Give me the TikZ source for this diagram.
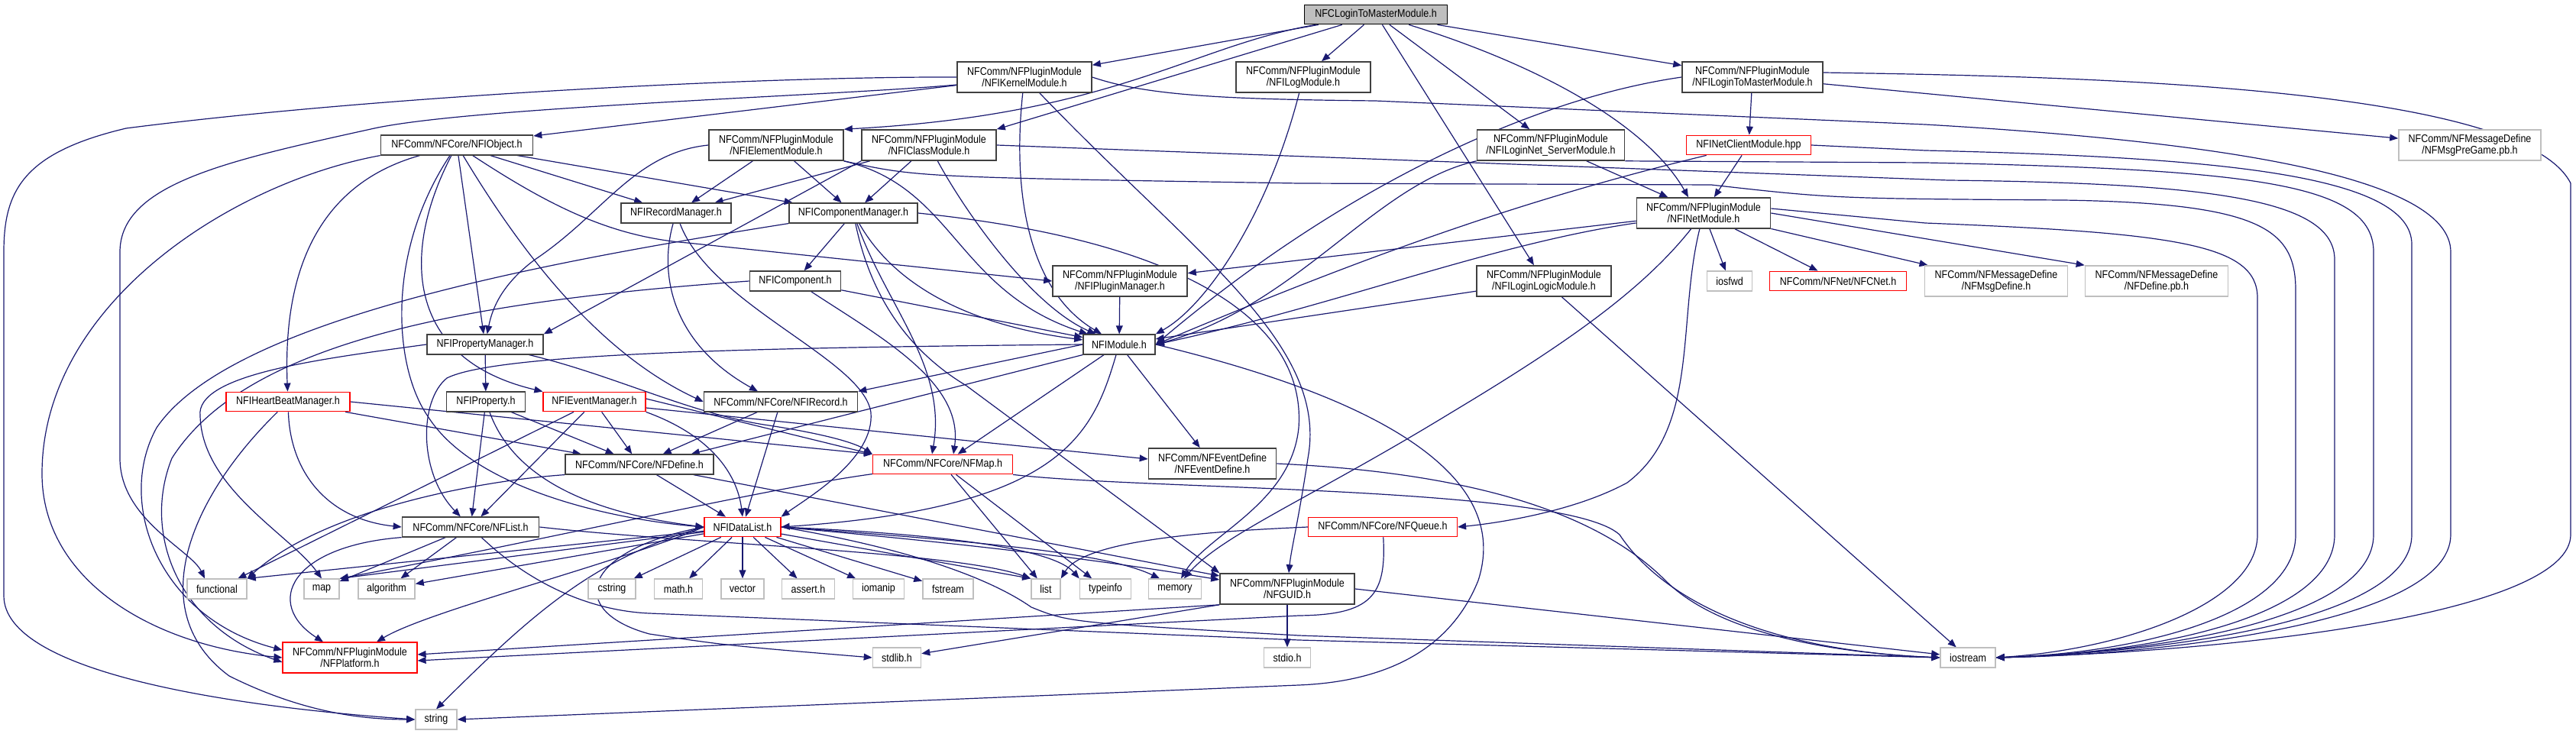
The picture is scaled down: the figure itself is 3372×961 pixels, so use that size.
\documentclass[tikz,border=0pt]{standalone}
\usepackage{fontspec}
\setmainfont{Liberation Sans}[FakeStretch=0.87]
\usetikzlibrary{arrows.meta}
\definecolor{edgeblue}{HTML}{191970}
\definecolor{sysgray}{HTML}{BFBFBF}
\definecolor{boxdark}{HTML}{404040}
\pgfdeclarelayer{edges}
\pgfsetlayers{edges,main}

\begin{document}
\begin{tikzpicture}[
    x=0.5pt, y=-0.5pt,
    >={Triangle[length=5.5pt, width=4.4pt]},
    hdr/.style={draw=boxdark, line width=0.8pt, fill=white, inner sep=1pt,
        minimum height=12.8pt, align=center, font=\fontsize{7.2}{7.3}\selectfont},
    twoline/.style={minimum height=20pt},
    hdrred/.style={hdr, draw=red, line width=0.6pt},
    sysinc/.style={hdr, draw=sysgray},
    rootfile/.style={hdr, draw=black, line width=0.6pt, fill=sysgray},
    inc/.style={->, draw=edgeblue, line width=0.6pt}
]

\useasboundingbox (0,0) rectangle (3372,961);

\node[rootfile, minimum width=93.5pt] (ctop) at (1801,19) {NFCLoginToMasterModule.h};

\node[hdr, twoline, minimum width=88pt] (kernel) at (1341,101) {NFComm/NFPluginModule\\/NFIKernelModule.h};
\node[hdr, twoline, minimum width=88pt] (logm) at (1706,101) {NFComm/NFPluginModule\\/NFILogModule.h};
\node[hdr, twoline, minimum width=92pt] (l2m) at (2294,101) {NFComm/NFPluginModule\\/NFILoginToMasterModule.h};

\node[hdr, minimum width=99.5pt] (object) at (598,190) {NFComm/NFCore/NFIObject.h};
\node[hdr, twoline, minimum width=88pt] (element) at (1016,190) {NFComm/NFPluginModule\\/NFIElementModule.h};
\node[hdr, twoline, minimum width=88pt] (classm) at (1216,190) {NFComm/NFPluginModule\\/NFIClassModule.h};
\node[hdr, twoline, minimum width=96.5pt] (loginnet) at (2030,190) {NFComm/NFPluginModule\\/NFILoginNet\_ServerModule.h};
\node[hdrred, minimum width=81.5pt] (netclient) at (2289,190) {NFINetClientModule.hpp};
\node[sysinc, twoline, minimum width=93pt] (pregame) at (3233,190) {NFComm/NFMessageDefine\\/NFMsgPreGame.pb.h};

\node[hdr, minimum width=72pt] (recmgr) at (885,279) {NFIRecordManager.h};
\node[hdr, minimum width=84pt] (compmgr) at (1117,279) {NFIComponentManager.h};
\node[hdr, twoline, minimum width=87.5pt] (netmod) at (2230,279) {NFComm/NFPluginModule\\/NFINetModule.h};

\node[hdr, minimum width=59.5pt] (component) at (1041,368) {NFIComponent.h};
\node[hdr, twoline, minimum width=88pt] (pluginmgr) at (1466,368) {NFComm/NFPluginModule\\/NFIPluginManager.h};
\node[hdr, twoline, minimum width=88pt] (loginlogic) at (2021,368) {NFComm/NFPluginModule\\/NFILoginLogicModule.h};
\node[sysinc, minimum width=29.5pt] (iosfwd) at (2264,368) {iosfwd};
\node[hdrred, minimum width=89.5pt] (cnet) at (2406,368) {NFComm/NFNet/NFCNet.h};
\node[sysinc, twoline, minimum width=93.5pt] (msgdef) at (2613,368) {NFComm/NFMessageDefine\\/NFMsgDefine.h};
\node[sysinc, twoline, minimum width=93.5pt] (definepb) at (2823,368) {NFComm/NFMessageDefine\\/NFDefine.pb.h};

\node[hdr, minimum width=76pt] (propmgr) at (635,451) {NFIPropertyManager.h};
\node[hdr, minimum width=47pt] (module) at (1465,451) {NFIModule.h};

\node[hdrred, minimum width=81pt] (heartbeat) at (377,526) {NFIHeartBeatManager.h};
\node[hdr, minimum width=51.5pt] (property) at (636,526) {NFIProperty.h};
\node[hdrred, minimum width=67pt] (eventmgr) at (778,526) {NFIEventManager.h};
\node[hdr, minimum width=100.5pt] (irecord) at (1022,526) {NFComm/NFCore/NFIRecord.h};

\node[hdr, minimum width=97pt] (nfdefine) at (837,608) {NFComm/NFCore/NFDefine.h};
\node[hdrred, minimum width=91.5pt] (nfmap) at (1234,608) {NFComm/NFCore/NFMap.h};
\node[hdr, twoline, minimum width=83.5pt] (eventdef) at (1587,607) {NFComm/NFEventDefine\\/NFEventDefine.h};

\node[hdr, minimum width=89.5pt] (nflist) at (616,690) {NFComm/NFCore/NFList.h};
\node[hdrred, minimum width=50pt] (datalist) at (972,690) {NFIDataList.h};
\node[hdrred, minimum width=97.5pt] (queue) at (1810,690) {NFComm/NFCore/NFQueue.h};

\node[sysinc, minimum width=39pt] (functional) at (284,771) {functional};
\node[sysinc, minimum width=23pt] (map) at (421,771) {map};
\node[sysinc, minimum width=37pt] (algorithm) at (506,771) {algorithm};
\node[sysinc, minimum width=31pt] (cstring) at (801,771) {cstring};
\node[sysinc, minimum width=31.5pt] (mathh) at (888,771) {math.h};
\node[sysinc, minimum width=28pt] (vector) at (972,771) {vector};
\node[sysinc, minimum width=34.5pt] (asserth) at (1058,771) {assert.h};
\node[sysinc, minimum width=33.5pt] (iomanip) at (1150,771) {iomanip};
\node[sysinc, minimum width=33pt] (fstream) at (1241,771) {fstream};
\node[sysinc, minimum width=19pt] (list) at (1369,771) {list};
\node[sysinc, minimum width=33.5pt] (typeinfo) at (1447,771) {typeinfo};
\node[sysinc, minimum width=34.5pt] (memory) at (1538,771) {memory};
\node[hdr, twoline, minimum width=88pt] (guid) at (1685,771) {NFComm/NFPluginModule\\/NFGUID.h};

\node[hdrred, twoline, minimum width=88pt] (platform) at (458,861) {NFComm/NFPluginModule\\/NFPlatform.h};
\node[sysinc, minimum width=31.5pt] (stdlib) at (1174,861) {stdlib.h};
\node[sysinc, minimum width=30.5pt] (stdio) at (1685,861) {stdio.h};
\node[sysinc, minimum width=36pt] (iostream) at (2576,861) {iostream};
\node[sysinc, minimum width=27pt] (string) at (571,942) {string};

\begin{pgfonlayer}{edges}
\draw[inc] (ctop) -- (kernel);
\draw[inc] (ctop) .. controls (1560,60) and (1460,150) .. (element.north east);
\draw[inc] (ctop) -- (classm.north east);
\draw[inc] (ctop) -- (logm);
\draw[inc] (ctop) -- (loginnet);
\draw[inc] (ctop) .. controls (2030,90) and (2160,170) .. ([xshift=-10pt]netmod.north);
\draw[inc] (ctop) -- (loginlogic);
\draw[inc] (ctop) -- (l2m);

\draw[inc] (kernel) -- (object);
\draw[inc] (kernel) .. controls (1325,250) and (1345,380) .. (module);
\draw[inc] (kernel) .. controls (1560,330) and (1740,450) .. (1712,600) .. controls (1700,680) and (1690,720) .. (guid);
\draw[inc] (kernel.east) .. controls (1500,125) and (1600,130) .. (1800,132) -- (2520,163) .. controls (2900,185) and (3208,230) .. (3208,330) -- (3208,700) .. controls (3208,820) and (2800,858) .. (iostream.east);
\draw[inc] (kernel.west) .. controls (1000,100) and (500,125) .. (165,168) .. controls (30,200) and (5,250) .. (5,330) -- (5,780) .. controls (5,880) and (300,925) .. (string.west);
\draw[inc] ([yshift=-5pt]kernel.west) .. controls (1100,125) and (620,140) .. (490,168) .. controls (300,210) and (157,240) .. (157,330) -- (157,600) .. controls (157,680) and (250,720) .. ([xshift=-8pt]functional.north);

\draw[inc] (logm) .. controls (1660,280) and (1580,400) .. (module.north east);

\draw[inc] (l2m.west) .. controls (2000,130) and (1750,250) .. (module.east);
\draw[inc] (l2m) -- (netclient);
\draw[inc] (l2m) -- (pregame);
\draw[inc] ([yshift=3pt]l2m.east) .. controls (2700,100) and (3300,110) .. (3365,240) -- (3365,700) .. controls (3365,800) and (2950,852) .. (iostream.east);

\draw[inc] (object) -- (recmgr);
\draw[inc] (object) -- (compmgr);
\draw[inc] (object) -- (propmgr);
\draw[inc] (object) .. controls (720,270) and (800,310) .. (900,318) -- (pluginmgr.west);
\draw[inc] (object) .. controls (420,240) and (370,350) .. (heartbeat);
\draw[inc] (object.south west) .. controls (300,240) and (55,400) .. (55,620) .. controls (55,760) and (200,845) .. (platform.west);
\draw[inc] (object) .. controls (525,330) and (530,470) .. (eventmgr.north west);
\draw[inc] (object) .. controls (700,360) and (800,470) .. (irecord.west);
\draw[inc] (object) .. controls (505,330) and (515,480) .. (560,545) .. controls (620,640) and (800,680) .. (datalist.west);

\draw[inc] (element) -- (recmgr);
\draw[inc] (element) -- (compmgr);
\draw[inc] (element) .. controls (1250,245) and (1250,380) .. (module);
\draw[inc] (element.south east) .. controls (1200,232) .. (1700,240) -- (2240,242) .. controls (2400,260) .. (2700,262) .. controls (2960,266) and (3005,300) .. (3005,380) -- (3005,700) .. controls (3005,805) and (2800,855) .. (iostream.east);
\draw[inc] (element.west) .. controls (830,200) and (790,280) .. (700,340) .. controls (660,370) and (645,400) .. (propmgr);

\draw[inc] (classm) -- (recmgr);
\draw[inc] (classm) -- (compmgr);
\draw[inc] (classm) .. controls (1265,280) and (1350,400) .. (module);
\draw[inc] (classm.south west) -- (propmgr.north east);
\draw[inc] (classm.east) -- (2550,236) .. controls (2900,240) and (3056,262) .. (3056,340) -- (3056,700) .. controls (3056,808) and (2820,855) .. (iostream.east);

\draw[inc] (recmgr) .. controls (862,360) and (880,450) .. ([xshift=-15pt]irecord.north);
\draw[inc] (recmgr) .. controls (930,400) and (1130,470) .. (1140,540) .. controls (1145,600) and (1060,650) .. (datalist.north east);

\draw[inc] (compmgr) -- (component);
\draw[inc] (compmgr) .. controls (1180,390) and (1300,430) .. (module);
\draw[inc] (compmgr) .. controls (1160,400) and (1240,480) .. ([xshift=-7pt]nfmap.north);
\draw[inc] (compmgr.south west) .. controls (700,345) and (300,420) .. (205,560) .. controls (150,660) and (210,810) .. ([yshift=5pt]platform.west);
\draw[inc] (compmgr.east) .. controls (1550,315) and (1710,420) .. (1700,560) .. controls (1690,660) and (1580,700) .. (memory);
\draw[inc] (compmgr) .. controls (1140,390) and (1190,460) .. (1265,505) -- (guid.north west);

\draw[inc] (component) -- (module);
\draw[inc] (component) .. controls (1150,440) and (1262,500) .. ([xshift=7pt]nfmap.north);
\draw[inc] (component.west) .. controls (600,395) and (320,450) .. (225,600) .. controls (185,700) and (235,820) .. ([yshift=-3pt]platform.west);

\draw[inc] (pluginmgr) -- (module);

\draw[inc] (netmod) -- (pluginmgr);
\draw[inc] (netmod) .. controls (1950,320) and (1750,400) .. (module.east);
\draw[inc] (netmod) -- (iosfwd);
\draw[inc] (netmod) -- (cnet);
\draw[inc] (netmod) -- (msgdef);
\draw[inc] (netmod.east) -- (definepb.north west);
\draw[inc] ([yshift=3pt]netmod.east) -- (2520,292) .. controls (2850,305) and (2955,320) .. (2955,390) -- (2955,700) .. controls (2955,790) and (2780,850) .. (iostream.east);
\draw[inc] (netmod) .. controls (2195,420) and (2225,560) .. (2130,632) .. controls (2060,670) and (1960,685) .. (queue.east);
\draw[inc] (netmod) .. controls (2150,380) and (2050,450) .. (1900,540) .. controls (1720,650) and (1600,700) .. (memory);

\draw[inc] (netclient) -- (netmod);
\draw[inc] (netclient) .. controls (2000,260) and (1800,330) .. (module.east);
\draw[inc] (netclient.east) -- (2520,197) .. controls (2900,206) and (3157,228) .. (3157,320) -- (3157,700) .. controls (3157,810) and (2850,853) .. (iostream.east);

\draw[inc] (loginnet) -- (netmod);
\draw[inc] (loginnet.south west) .. controls (1800,240) and (1700,400) .. (module.east);
\draw[inc] (loginnet.south east) -- (2520,213) .. controls (2950,222) and (3107,240) .. (3107,330) -- (3107,700) .. controls (3107,810) and (2830,854) .. (iostream.east);

\draw[inc] (loginlogic) -- (module);
\draw[inc] (loginlogic) -- (iostream);

\draw[inc] (propmgr) -- (property);
\draw[inc] (propmgr.west) .. controls (420,470) and (255,490) .. (262,545) .. controls (265,640) and (380,700) .. (map.north);
\draw[inc] (propmgr) .. controls (800,490) and (900,540) .. (1000,556) .. controls (1080,568) and (1120,580) .. (nfmap.north west);

\draw[inc] (heartbeat) -- (nfdefine);
\draw[inc] (heartbeat.east) -- (nfmap.north west);
\draw[inc] (heartbeat) .. controls (380,620) and (430,680) .. (nflist.west);
\draw[inc] (heartbeat) .. controls (250,650) and (185,800) .. (300,885) .. controls (400,935) and (480,942) .. (string.west);

\draw[inc] (property) -- (nflist);
\draw[inc] (property) -- (nfdefine);
\draw[inc] (property) .. controls (670,620) and (760,670) .. (datalist.west);

\draw[inc] (eventmgr) -- (nfdefine);
\draw[inc] (eventmgr) -- (nflist);
\draw[inc] (eventmgr) -- (functional);
\draw[inc] (eventmgr.south east) .. controls (930,570) and (965,620) .. (datalist.north);
\draw[inc] ([yshift=-4pt]eventmgr.east) -- ([yshift=3pt]eventdef.west);
\draw[inc] ([yshift=2pt]eventmgr.east) -- (nfmap.north west);

\draw[inc] (irecord) -- (nfdefine);
\draw[inc] (irecord) -- (datalist);

\draw[inc] (nfdefine) -- (datalist);
\draw[inc] (nfdefine.south west) .. controls (620,630) and (420,670) .. (functional.north east);
\draw[inc] (nfdefine) -- (guid);

\draw[inc] (nfmap) -- (list);
\draw[inc] (nfmap) -- (typeinfo);
\draw[inc] (nfmap) .. controls (1000,640) and (700,710) .. (map.north east);
\draw[inc] (nfmap.south east) .. controls (1500,642) and (2050,636) .. (2120,700) .. controls (2180,790) and (2320,852) .. (iostream.west);

\draw[inc] (nflist) -- (map);
\draw[inc] (nflist) -- (algorithm);
\draw[inc] (nflist.south west) .. controls (380,715) and (345,790) .. ([xshift=-17.5pt]platform.north);
\draw[inc] (nflist.east) .. controls (900,712) and (1250,722) .. (list.north west);
\draw[inc] (nflist) .. controls (700,770) and (780,800) .. (850,803) -- (1700,838) -- (iostream.west);

\draw[inc] (datalist) -- (cstring);
\draw[inc] (datalist) -- (mathh);
\draw[inc] (datalist) -- (vector);
\draw[inc] (datalist) -- (asserth);
\draw[inc] (datalist) -- (iomanip);
\draw[inc] (datalist) -- (fstream);
\draw[inc] (datalist) -- (list.north west);
\draw[inc] (datalist.east) .. controls (1250,700) and (1380,720) .. (typeinfo.north west);
\draw[inc] (datalist.east) .. controls (1300,710) and (1450,725) .. ([xshift=-10pt]memory.north);
\draw[inc] (datalist) -- (functional.north east);
\draw[inc] (datalist) -- (map.north east);
\draw[inc] (datalist) -- (algorithm);
\draw[inc] (datalist.west) .. controls (800,740) and (560,800) .. ([xshift=17.5pt]platform.north);
\draw[inc] (datalist.west) .. controls (780,730) and (700,800) .. (string.north);
\draw[inc] (datalist.west) .. controls (760,720) and (740,800) .. (850,830) .. controls (950,845) .. (stdlib.west);
\draw[inc] (datalist.east) .. controls (1300,715) and (1450,735) .. ([yshift=6pt]guid.west);
\draw[inc] (datalist.east) .. controls (1200,720) and (1300,760) .. (1350,795) .. controls (1400,815) .. (1700,832) -- (iostream.west);

\draw[inc] (guid.south west) -- ([yshift=2pt]platform.east);
\draw[inc] (guid.south west) -- (stdlib);
\draw[inc] (guid) -- (stdio);
\draw[inc] (guid.east) -- (iostream);

\draw[inc] (queue.west) .. controls (1600,695) and (1420,705) .. (list.north east);
\draw[inc] (queue) .. controls (1815,780) and (1795,805) .. (1700,806) -- ([yshift=-2pt]platform.east);

\draw[inc] (eventdef.east) .. controls (1950,620) and (2100,680) .. (2180,760) .. controls (2250,830) and (2400,855) .. (iostream.west);

\draw[inc] (module.west) .. controls (1000,455) and (650,462) .. (585,495) .. controls (548,525) and (548,620) .. (nflist);
\draw[inc] (module.south west) -- ([xshift=-15pt]nfdefine.north east);
\draw[inc] (module.west) -- (irecord.north east);
\draw[inc] (module) -- (nfmap);
\draw[inc] (module) .. controls (1430,570) and (1390,665) .. (datalist.east);
\draw[inc] (module) -- (eventdef);
\draw[inc] (module.east) .. controls (1800,520) and (1980,620) .. (1935,760) .. controls (1895,860) and (1800,893) .. (1700,897) -- (string.east);
\end{pgfonlayer}

\end{tikzpicture}
\end{document}
